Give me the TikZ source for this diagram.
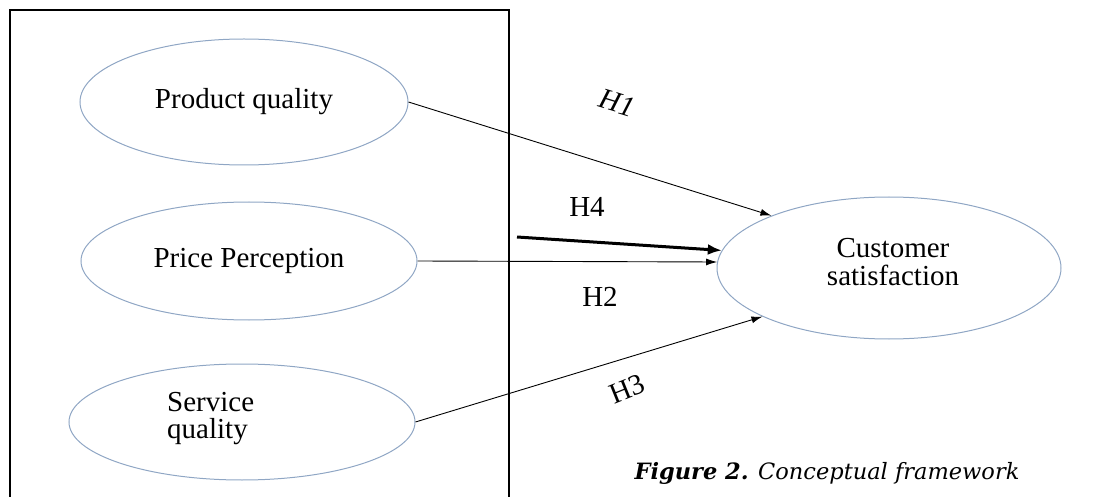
\documentclass[tikz,border=0pt]{standalone}
\usepackage{fontspec}
\setmainfont{Liberation Serif}
\newfontfamily\capfont{DejaVu Serif}
\usetikzlibrary{shapes.geometric,arrows.meta}
\definecolor{ellcol}{HTML}{8FA6C4}
\tikzset{
  construct/.style={ellipse, draw=ellcol, line width=1pt, inner sep=0pt, align=center},
  link/.style={draw=black, line width=0.9pt, -{Latex[length=11pt,width=7pt]}},
  biglink/.style={draw=black, line width=3pt, -{Latex[length=14pt,width=11pt]}},
  hlabel/.style={inner sep=0pt},
  bodyfont/.style={font=\fontsize{29}{30}\selectfont}
}
\begin{document}
\begin{tikzpicture}[x=1pt,y=-1pt,bodyfont]
\useasboundingbox (0,0) rectangle (1093,497);
\draw[line width=1.5pt] (10,520) -- (10,10) -- (509,10) -- (509,520);
\node[construct, minimum width=328pt, minimum height=126pt] (pq) at (244,102) {Product quality};
\node[construct, minimum width=336pt, minimum height=118pt] (pp) at (249,261) {Price Perception};
\node[construct, minimum width=346pt, minimum height=116pt] (sq) at (242,422) {};
\node[align=left, inner sep=0pt, anchor=west] (sqt) at (167,419) {Service\\[-3pt]quality};
\node[construct, minimum width=344pt, minimum height=142pt] (cs) at (889,268) {};
\node[align=center, inner sep=0pt] (cst) at (893,262) {Customer\\[-2pt]satisfaction};
\coordinate (h4s) at (517,237);
\draw[link] (pq.east) -- (cs.156);
\draw[biglink] (h4s) -- (cs.174);
\draw[link] (pp.east) -- (cs.178);
\draw[link] (sq.east) -- (cs.201);
\node[hlabel, rotate=-17, font=\fontsize{29}{30}\itshape] (h1) at (617,103) {H1};
\node[hlabel] (h4) at (587,207) {H4};
\node[hlabel] (h2) at (600,297) {H2};
\node[hlabel, rotate=22] (h3) at (627,389) {H3};
\node[inner sep=0pt, font=\capfont\fontsize{22.5}{24}\selectfont\itshape] (cap) at (827,473) {\textbf{Figure 2.} Conceptual framework};
\end{tikzpicture}
\end{document}
